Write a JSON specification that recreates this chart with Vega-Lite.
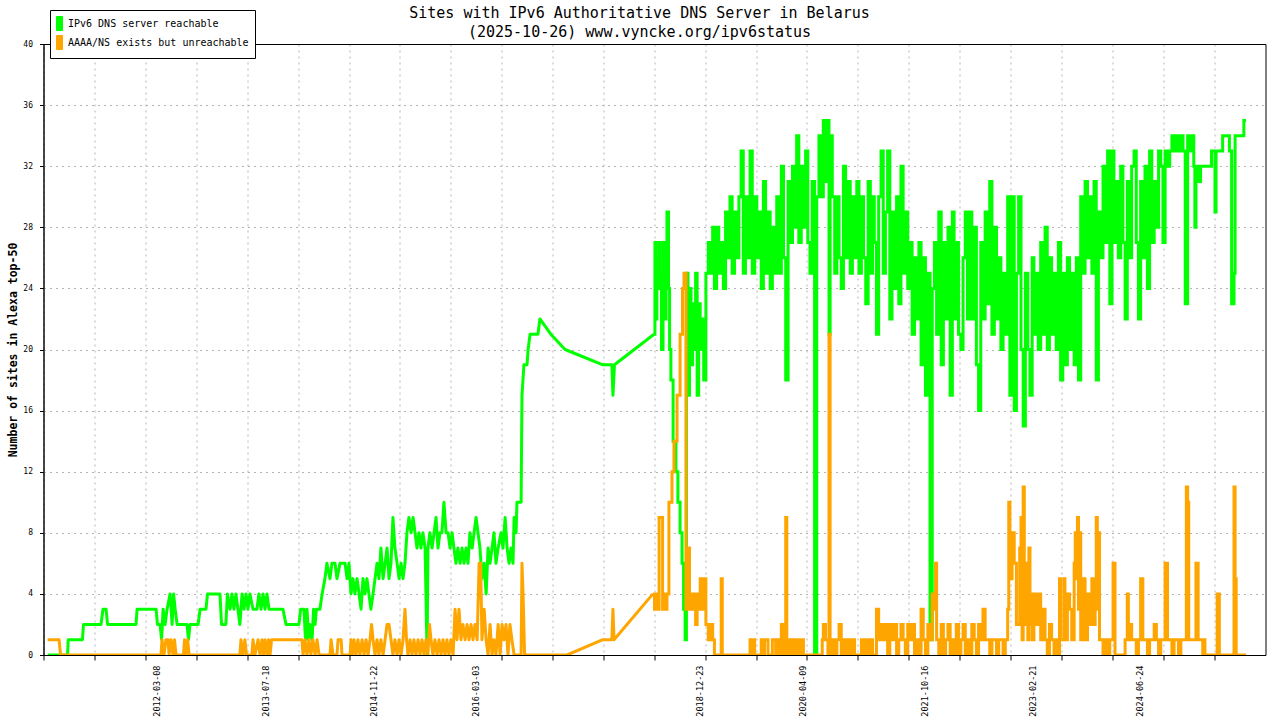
{
  "$schema": "https://vega.github.io/schema/vega-lite/v6.json",
  "autosize": {"type": "none"},
  "padding": {"left": 43.5, "top": 44, "right": 14.5, "bottom": 65},
  "width": 1222,
  "height": 611,
  "background": "white",
  "title": {
    "text": ["Sites with IPv6 Authoritative DNS Server in Belarus", "(2025-10-26) www.vyncke.org/ipv6status"],
    "font": "DejaVu Sans Mono",
    "fontSize": 15,
    "fontWeight": "normal",
    "color": "black",
    "lineHeight": 19,
    "anchor": "middle",
    "baseline": "bottom",
    "dx": -15,
    "offset": -45
  },
  "datasets": {
    "reachable_early": [
      {"date": "2010-10-25", "sites": 0}, {"date": "2011-01-24", "sites": 0}, {"date": "2011-01-27", "sites": 1},
      {"date": "2011-04-02", "sites": 1}, {"date": "2011-04-07", "sites": 2}, {"date": "2011-06-26", "sites": 2},
      {"date": "2011-07-05", "sites": 3}, {"date": "2011-07-19", "sites": 3}, {"date": "2011-07-26", "sites": 2},
      {"date": "2011-12-03", "sites": 2}, {"date": "2011-12-08", "sites": 3}, {"date": "2012-03-04", "sites": 3},
      {"date": "2012-03-10", "sites": 2}, {"date": "2012-03-22", "sites": 2}, {"date": "2012-03-29", "sites": 1},
      {"date": "2012-04-05", "sites": 3}, {"date": "2012-04-14", "sites": 2}, {"date": "2012-04-23", "sites": 3},
      {"date": "2012-05-07", "sites": 4}, {"date": "2012-05-16", "sites": 2}, {"date": "2012-05-23", "sites": 4},
      {"date": "2012-05-30", "sites": 3}, {"date": "2012-06-08", "sites": 2}, {"date": "2012-07-23", "sites": 2},
      {"date": "2012-07-30", "sites": 1}, {"date": "2012-08-06", "sites": 2}, {"date": "2012-09-12", "sites": 2},
      {"date": "2012-09-21", "sites": 3}, {"date": "2012-10-18", "sites": 3}, {"date": "2012-10-25", "sites": 4},
      {"date": "2012-12-21", "sites": 4}, {"date": "2012-12-28", "sites": 2}, {"date": "2013-01-17", "sites": 2},
      {"date": "2013-01-24", "sites": 4}, {"date": "2013-02-05", "sites": 3}, {"date": "2013-02-14", "sites": 4},
      {"date": "2013-02-23", "sites": 3}, {"date": "2013-03-04", "sites": 4}, {"date": "2013-03-13", "sites": 3},
      {"date": "2013-03-22", "sites": 2}, {"date": "2013-04-01", "sites": 4}, {"date": "2013-04-10", "sites": 3},
      {"date": "2013-04-19", "sites": 4}, {"date": "2013-04-28", "sites": 3}, {"date": "2013-05-07", "sites": 4},
      {"date": "2013-05-21", "sites": 3}, {"date": "2013-06-08", "sites": 3}, {"date": "2013-06-17", "sites": 4},
      {"date": "2013-06-27", "sites": 3}, {"date": "2013-07-06", "sites": 4}, {"date": "2013-07-15", "sites": 3},
      {"date": "2013-07-24", "sites": 4}, {"date": "2013-08-02", "sites": 3}, {"date": "2013-10-05", "sites": 3},
      {"date": "2013-10-19", "sites": 2}, {"date": "2013-12-17", "sites": 2}, {"date": "2013-12-25", "sites": 3},
      {"date": "2014-01-09", "sites": 3}, {"date": "2014-01-16", "sites": 1}, {"date": "2014-01-23", "sites": 3},
      {"date": "2014-01-30", "sites": 1}, {"date": "2014-02-06", "sites": 2}, {"date": "2014-02-15", "sites": 1},
      {"date": "2014-02-22", "sites": 3}, {"date": "2014-03-01", "sites": 2}, {"date": "2014-03-07", "sites": 3},
      {"date": "2014-03-23", "sites": 3}, {"date": "2014-04-02", "sites": 4}, {"date": "2014-04-15", "sites": 5},
      {"date": "2014-04-24", "sites": 6}, {"date": "2014-05-08", "sites": 5}, {"date": "2014-05-17", "sites": 6},
      {"date": "2014-05-31", "sites": 6}, {"date": "2014-06-09", "sites": 5}, {"date": "2014-06-23", "sites": 6},
      {"date": "2014-07-16", "sites": 6}, {"date": "2014-07-25", "sites": 5}, {"date": "2014-08-03", "sites": 6},
      {"date": "2014-08-12", "sites": 4}, {"date": "2014-08-21", "sites": 5}, {"date": "2014-08-30", "sites": 4},
      {"date": "2014-09-09", "sites": 5}, {"date": "2014-09-18", "sites": 4}, {"date": "2014-09-27", "sites": 3},
      {"date": "2014-10-06", "sites": 5}, {"date": "2014-10-15", "sites": 4}, {"date": "2014-10-24", "sites": 5},
      {"date": "2014-11-02", "sites": 4}, {"date": "2014-11-11", "sites": 3}, {"date": "2014-11-21", "sites": 4},
      {"date": "2014-11-30", "sites": 5}, {"date": "2014-12-09", "sites": 6}, {"date": "2014-12-18", "sites": 5},
      {"date": "2014-12-27", "sites": 7}, {"date": "2015-01-06", "sites": 5}, {"date": "2015-01-15", "sites": 6},
      {"date": "2015-01-24", "sites": 7}, {"date": "2015-02-02", "sites": 5}, {"date": "2015-02-11", "sites": 6},
      {"date": "2015-02-20", "sites": 9}, {"date": "2015-03-01", "sites": 7}, {"date": "2015-03-11", "sites": 6},
      {"date": "2015-03-20", "sites": 5}, {"date": "2015-03-29", "sites": 6}, {"date": "2015-04-07", "sites": 5},
      {"date": "2015-04-16", "sites": 6}, {"date": "2015-04-25", "sites": 8}, {"date": "2015-05-04", "sites": 9},
      {"date": "2015-05-14", "sites": 8}, {"date": "2015-05-23", "sites": 9}, {"date": "2015-06-01", "sites": 8},
      {"date": "2015-06-10", "sites": 7}, {"date": "2015-06-19", "sites": 8}, {"date": "2015-06-28", "sites": 7},
      {"date": "2015-07-07", "sites": 8}, {"date": "2015-07-17", "sites": 7}, {"date": "2015-07-26", "sites": 0},
      {"date": "2015-07-30", "sites": 7}, {"date": "2015-08-08", "sites": 8}, {"date": "2015-08-18", "sites": 7},
      {"date": "2015-08-27", "sites": 8}, {"date": "2015-09-05", "sites": 9}, {"date": "2015-09-14", "sites": 7},
      {"date": "2015-09-23", "sites": 8}, {"date": "2015-10-02", "sites": 8}, {"date": "2015-10-11", "sites": 10},
      {"date": "2015-10-21", "sites": 8}, {"date": "2015-10-30", "sites": 8}, {"date": "2015-11-08", "sites": 7},
      {"date": "2015-11-17", "sites": 8}, {"date": "2015-11-26", "sites": 7}, {"date": "2015-12-05", "sites": 6},
      {"date": "2015-12-14", "sites": 7}, {"date": "2015-12-24", "sites": 6}, {"date": "2016-01-02", "sites": 7},
      {"date": "2016-01-11", "sites": 6}, {"date": "2016-01-20", "sites": 7}, {"date": "2016-01-29", "sites": 6},
      {"date": "2016-02-07", "sites": 8}, {"date": "2016-02-17", "sites": 7}, {"date": "2016-02-26", "sites": 8},
      {"date": "2016-03-06", "sites": 9}, {"date": "2016-03-15", "sites": 8}, {"date": "2016-03-24", "sites": 7},
      {"date": "2016-04-02", "sites": 5}, {"date": "2016-04-12", "sites": 6}, {"date": "2016-04-21", "sites": 4},
      {"date": "2016-04-30", "sites": 7}, {"date": "2016-05-09", "sites": 6}, {"date": "2016-05-18", "sites": 7},
      {"date": "2016-05-27", "sites": 8}, {"date": "2016-06-05", "sites": 6}, {"date": "2016-06-15", "sites": 7},
      {"date": "2016-06-28", "sites": 8}, {"date": "2016-07-07", "sites": 7}, {"date": "2016-07-17", "sites": 9},
      {"date": "2016-07-26", "sites": 7}, {"date": "2016-08-04", "sites": 6}, {"date": "2016-08-13", "sites": 7},
      {"date": "2016-08-22", "sites": 6}, {"date": "2016-08-27", "sites": 9}, {"date": "2016-09-05", "sites": 8},
      {"date": "2016-09-09", "sites": 10}, {"date": "2016-09-28", "sites": 10}, {"date": "2016-10-02", "sites": 17},
      {"date": "2016-10-11", "sites": 19}, {"date": "2016-10-25", "sites": 19}, {"date": "2016-10-30", "sites": 20},
      {"date": "2016-11-08", "sites": 21}, {"date": "2016-12-14", "sites": 21}, {"date": "2016-12-23", "sites": 22},
      {"date": "2017-02-11", "sites": 21}, {"date": "2017-04-17", "sites": 20}, {"date": "2017-10-07", "sites": 19},
      {"date": "2017-11-17", "sites": 19}, {"date": "2017-11-22", "sites": 17}, {"date": "2017-11-29", "sites": 19},
      {"date": "2018-05-29", "sites": 21}
    ],
    "reachable": [
      {"date": "2018-05-29", "sites": 21}, {"date": "2018-06-02", "sites": 27}, {"date": "2018-06-07", "sites": 22},
      {"date": "2018-06-11", "sites": 26}, {"date": "2018-06-16", "sites": 24}, {"date": "2018-06-21", "sites": 27},
      {"date": "2018-06-25", "sites": 25}, {"date": "2018-07-02", "sites": 20}, {"date": "2018-07-09", "sites": 27},
      {"date": "2018-07-16", "sites": 22}, {"date": "2018-07-23", "sites": 26}, {"date": "2018-07-27", "sites": 29},
      {"date": "2018-08-03", "sites": 24}, {"date": "2018-08-08", "sites": 20}, {"date": "2018-08-14", "sites": 18},
      {"date": "2018-08-24", "sites": 14}, {"date": "2018-09-06", "sites": 12}, {"date": "2018-09-15", "sites": 10},
      {"date": "2018-09-25", "sites": 8}, {"date": "2018-10-04", "sites": 6}, {"date": "2018-10-11", "sites": 3},
      {"date": "2018-10-18", "sites": 1}, {"date": "2018-10-24", "sites": 25}, {"date": "2018-10-31", "sites": 17},
      {"date": "2018-11-07", "sites": 24}, {"date": "2018-11-14", "sites": 19}, {"date": "2018-11-21", "sites": 23},
      {"date": "2018-11-28", "sites": 20}, {"date": "2018-12-05", "sites": 25}, {"date": "2018-12-12", "sites": 17},
      {"date": "2018-12-19", "sites": 23}, {"date": "2018-12-26", "sites": 20},
      {"date": "2019-01-01", "sites": 22}, {"date": "2019-01-11", "sites": 18}, {"date": "2019-01-21", "sites": 25},
      {"date": "2019-02-01", "sites": 27}, {"date": "2019-02-11", "sites": 25}, {"date": "2019-02-21", "sites": 28},
      {"date": "2019-03-01", "sites": 24}, {"date": "2019-03-11", "sites": 28}, {"date": "2019-03-21", "sites": 25},
      {"date": "2019-04-01", "sites": 27}, {"date": "2019-04-11", "sites": 24}, {"date": "2019-04-21", "sites": 29},
      {"date": "2019-05-01", "sites": 26}, {"date": "2019-05-11", "sites": 30}, {"date": "2019-05-21", "sites": 25},
      {"date": "2019-06-01", "sites": 29}, {"date": "2019-06-11", "sites": 26}, {"date": "2019-06-21", "sites": 30},
      {"date": "2019-07-01", "sites": 33}, {"date": "2019-07-11", "sites": 25}, {"date": "2019-07-21", "sites": 30},
      {"date": "2019-08-01", "sites": 26}, {"date": "2019-08-11", "sites": 33}, {"date": "2019-08-21", "sites": 25},
      {"date": "2019-09-01", "sites": 30}, {"date": "2019-09-11", "sites": 26}, {"date": "2019-09-21", "sites": 29},
      {"date": "2019-10-01", "sites": 24}, {"date": "2019-10-11", "sites": 31}, {"date": "2019-10-21", "sites": 25},
      {"date": "2019-11-01", "sites": 29}, {"date": "2019-11-11", "sites": 24}, {"date": "2019-11-21", "sites": 28},
      {"date": "2019-12-01", "sites": 25}, {"date": "2019-12-11", "sites": 30}, {"date": "2019-12-21", "sites": 25},
      {"date": "2020-01-01", "sites": 32}, {"date": "2020-01-11", "sites": 26}, {"date": "2020-01-21", "sites": 18},
      {"date": "2020-02-01", "sites": 31}, {"date": "2020-02-11", "sites": 27}, {"date": "2020-02-21", "sites": 32},
      {"date": "2020-03-01", "sites": 28}, {"date": "2020-03-11", "sites": 34}, {"date": "2020-03-21", "sites": 27},
      {"date": "2020-04-01", "sites": 32}, {"date": "2020-04-11", "sites": 28}, {"date": "2020-04-21", "sites": 33},
      {"date": "2020-05-01", "sites": 27}, {"date": "2020-05-11", "sites": 25}, {"date": "2020-05-21", "sites": 31},
      {"date": "2020-06-01", "sites": 0}, {"date": "2020-06-11", "sites": 30}, {"date": "2020-06-21", "sites": 34},
      {"date": "2020-07-01", "sites": 30}, {"date": "2020-07-11", "sites": 35}, {"date": "2020-07-21", "sites": 31},
      {"date": "2020-08-01", "sites": 35}, {"date": "2020-08-06", "sites": 21}, {"date": "2020-08-11", "sites": 34},
      {"date": "2020-08-21", "sites": 30}, {"date": "2020-09-01", "sites": 25}, {"date": "2020-09-11", "sites": 30},
      {"date": "2020-09-21", "sites": 26}, {"date": "2020-10-01", "sites": 24}, {"date": "2020-10-11", "sites": 32},
      {"date": "2020-10-21", "sites": 26}, {"date": "2020-11-01", "sites": 31}, {"date": "2020-11-11", "sites": 25},
      {"date": "2020-11-21", "sites": 30}, {"date": "2020-12-01", "sites": 26}, {"date": "2020-12-11", "sites": 31},
      {"date": "2020-12-21", "sites": 25}, {"date": "2021-01-01", "sites": 30}, {"date": "2021-01-11", "sites": 26},
      {"date": "2021-01-21", "sites": 23}, {"date": "2021-02-01", "sites": 31}, {"date": "2021-02-11", "sites": 25},
      {"date": "2021-02-21", "sites": 30}, {"date": "2021-03-01", "sites": 27}, {"date": "2021-03-11", "sites": 21},
      {"date": "2021-03-21", "sites": 30}, {"date": "2021-04-01", "sites": 33}, {"date": "2021-04-11", "sites": 25},
      {"date": "2021-04-21", "sites": 29}, {"date": "2021-05-01", "sites": 33}, {"date": "2021-05-11", "sites": 22},
      {"date": "2021-05-21", "sites": 29}, {"date": "2021-06-01", "sites": 24}, {"date": "2021-06-11", "sites": 30},
      {"date": "2021-06-21", "sites": 23}, {"date": "2021-07-01", "sites": 32}, {"date": "2021-07-11", "sites": 25},
      {"date": "2021-07-21", "sites": 29}, {"date": "2021-08-01", "sites": 24}, {"date": "2021-08-11", "sites": 27},
      {"date": "2021-08-21", "sites": 21}, {"date": "2021-09-01", "sites": 26}, {"date": "2021-09-11", "sites": 22},
      {"date": "2021-09-21", "sites": 27}, {"date": "2021-10-01", "sites": 19}, {"date": "2021-10-11", "sites": 26},
      {"date": "2021-10-21", "sites": 17}, {"date": "2021-11-01", "sites": 25}, {"date": "2021-11-11", "sites": 1},
      {"date": "2021-11-21", "sites": 24}, {"date": "2021-12-01", "sites": 27}, {"date": "2021-12-11", "sites": 21},
      {"date": "2021-12-21", "sites": 29}, {"date": "2022-01-01", "sites": 19}, {"date": "2022-01-11", "sites": 27},
      {"date": "2022-01-21", "sites": 22}, {"date": "2022-02-01", "sites": 28}, {"date": "2022-02-11", "sites": 17},
      {"date": "2022-02-21", "sites": 29}, {"date": "2022-03-01", "sites": 22}, {"date": "2022-03-11", "sites": 27},
      {"date": "2022-03-21", "sites": 21}, {"date": "2022-04-01", "sites": 20}, {"date": "2022-04-11", "sites": 26},
      {"date": "2022-04-21", "sites": 29}, {"date": "2022-05-01", "sites": 22}, {"date": "2022-05-11", "sites": 29},
      {"date": "2022-05-21", "sites": 22}, {"date": "2022-06-01", "sites": 28}, {"date": "2022-06-11", "sites": 19},
      {"date": "2022-06-21", "sites": 16}, {"date": "2022-07-01", "sites": 27}, {"date": "2022-07-11", "sites": 22},
      {"date": "2022-07-21", "sites": 29}, {"date": "2022-08-01", "sites": 23}, {"date": "2022-08-11", "sites": 31},
      {"date": "2022-08-21", "sites": 21}, {"date": "2022-09-01", "sites": 28}, {"date": "2022-09-11", "sites": 22},
      {"date": "2022-09-21", "sites": 26}, {"date": "2022-10-01", "sites": 20}, {"date": "2022-10-11", "sites": 25},
      {"date": "2022-10-21", "sites": 21}, {"date": "2022-11-01", "sites": 30}, {"date": "2022-11-11", "sites": 17},
      {"date": "2022-11-21", "sites": 30}, {"date": "2022-12-01", "sites": 16}, {"date": "2022-12-11", "sites": 25},
      {"date": "2022-12-21", "sites": 30}, {"date": "2023-01-01", "sites": 20}, {"date": "2023-01-11", "sites": 15},
      {"date": "2023-01-21", "sites": 25}, {"date": "2023-02-01", "sites": 20}, {"date": "2023-02-11", "sites": 17},
      {"date": "2023-02-21", "sites": 26}, {"date": "2023-03-01", "sites": 21}, {"date": "2023-03-11", "sites": 25},
      {"date": "2023-03-21", "sites": 20}, {"date": "2023-04-01", "sites": 27}, {"date": "2023-04-11", "sites": 21},
      {"date": "2023-04-21", "sites": 28}, {"date": "2023-05-01", "sites": 20}, {"date": "2023-05-11", "sites": 26},
      {"date": "2023-05-21", "sites": 21}, {"date": "2023-06-01", "sites": 25}, {"date": "2023-06-11", "sites": 20},
      {"date": "2023-06-21", "sites": 27}, {"date": "2023-07-01", "sites": 18}, {"date": "2023-07-11", "sites": 25},
      {"date": "2023-07-21", "sites": 19}, {"date": "2023-08-01", "sites": 26}, {"date": "2023-08-11", "sites": 20},
      {"date": "2023-08-21", "sites": 25}, {"date": "2023-09-01", "sites": 19}, {"date": "2023-09-11", "sites": 26},
      {"date": "2023-09-21", "sites": 18}, {"date": "2023-10-01", "sites": 30}, {"date": "2023-10-11", "sites": 25},
      {"date": "2023-10-21", "sites": 31}, {"date": "2023-11-01", "sites": 26}, {"date": "2023-11-11", "sites": 30},
      {"date": "2023-11-21", "sites": 25}, {"date": "2023-12-01", "sites": 31}, {"date": "2023-12-11", "sites": 18},
      {"date": "2023-12-21", "sites": 29}, {"date": "2024-01-01", "sites": 26}, {"date": "2024-01-11", "sites": 32},
      {"date": "2024-01-21", "sites": 27}, {"date": "2024-02-01", "sites": 33}, {"date": "2024-02-11", "sites": 23},
      {"date": "2024-02-21", "sites": 33}, {"date": "2024-03-01", "sites": 27}, {"date": "2024-03-11", "sites": 31},
      {"date": "2024-03-21", "sites": 26}, {"date": "2024-04-01", "sites": 32}, {"date": "2024-04-11", "sites": 27},
      {"date": "2024-04-21", "sites": 22}, {"date": "2024-05-01", "sites": 31}, {"date": "2024-05-11", "sites": 26},
      {"date": "2024-05-21", "sites": 32}, {"date": "2024-06-01", "sites": 33}, {"date": "2024-06-11", "sites": 27},
      {"date": "2024-06-21", "sites": 22}, {"date": "2024-07-01", "sites": 31}, {"date": "2024-07-11", "sites": 26},
      {"date": "2024-07-21", "sites": 32}, {"date": "2024-08-01", "sites": 24}, {"date": "2024-08-11", "sites": 33},
      {"date": "2024-08-21", "sites": 27}, {"date": "2024-09-01", "sites": 31}, {"date": "2024-09-11", "sites": 28},
      {"date": "2024-09-21", "sites": 33}, {"date": "2024-10-01", "sites": 32}, {"date": "2024-10-11", "sites": 27},
      {"date": "2024-10-21", "sites": 33}, {"date": "2024-11-01", "sites": 32}, {"date": "2024-11-11", "sites": 33},
      {"date": "2024-11-21", "sites": 34}, {"date": "2024-12-01", "sites": 33}, {"date": "2024-12-11", "sites": 34},
      {"date": "2024-12-21", "sites": 33}, {"date": "2025-01-01", "sites": 34}, {"date": "2025-01-11", "sites": 33},
      {"date": "2025-01-21", "sites": 23}, {"date": "2025-02-01", "sites": 34}, {"date": "2025-02-11", "sites": 33},
      {"date": "2025-02-21", "sites": 34}, {"date": "2025-03-01", "sites": 32}, {"date": "2025-03-06", "sites": 28},
      {"date": "2025-03-11", "sites": 32}, {"date": "2025-03-21", "sites": 31}, {"date": "2025-04-01", "sites": 32},
      {"date": "2025-04-21", "sites": 32}, {"date": "2025-05-11", "sites": 32}, {"date": "2025-05-21", "sites": 33},
      {"date": "2025-06-01", "sites": 33}, {"date": "2025-06-06", "sites": 29}, {"date": "2025-06-11", "sites": 33},
      {"date": "2025-06-21", "sites": 33}, {"date": "2025-07-01", "sites": 33}, {"date": "2025-07-11", "sites": 34},
      {"date": "2025-07-21", "sites": 34}, {"date": "2025-08-01", "sites": 34}, {"date": "2025-08-11", "sites": 33},
      {"date": "2025-08-21", "sites": 23}, {"date": "2025-09-01", "sites": 25}, {"date": "2025-09-06", "sites": 34},
      {"date": "2025-09-21", "sites": 34}, {"date": "2025-10-11", "sites": 34}, {"date": "2025-10-16", "sites": 35},
      {"date": "2025-10-26", "sites": 35}
    ],
    "unreachable_early": [
      {"date": "2010-10-25", "sites": 1}, {"date": "2010-12-16", "sites": 1}, {"date": "2010-12-23", "sites": 0},
      {"date": "2012-03-26", "sites": 0}, {"date": "2012-03-31", "sites": 1}, {"date": "2012-04-09", "sites": 0},
      {"date": "2012-04-18", "sites": 1}, {"date": "2012-04-28", "sites": 1}, {"date": "2012-05-02", "sites": 0},
      {"date": "2012-05-11", "sites": 1}, {"date": "2012-05-20", "sites": 0}, {"date": "2012-05-27", "sites": 1},
      {"date": "2012-06-03", "sites": 0}, {"date": "2012-07-07", "sites": 0}, {"date": "2012-07-12", "sites": 1},
      {"date": "2012-07-19", "sites": 0}, {"date": "2012-07-26", "sites": 1}, {"date": "2012-08-02", "sites": 0},
      {"date": "2013-03-22", "sites": 0}, {"date": "2013-03-27", "sites": 1}, {"date": "2013-04-05", "sites": 0},
      {"date": "2013-04-14", "sites": 1}, {"date": "2013-04-21", "sites": 0}, {"date": "2013-05-16", "sites": 0},
      {"date": "2013-05-21", "sites": 1}, {"date": "2013-05-30", "sites": 0}, {"date": "2013-06-13", "sites": 1},
      {"date": "2013-06-22", "sites": 0}, {"date": "2013-07-01", "sites": 1}, {"date": "2013-07-08", "sites": 0},
      {"date": "2013-07-15", "sites": 1}, {"date": "2013-07-24", "sites": 0}, {"date": "2013-07-31", "sites": 1},
      {"date": "2013-08-07", "sites": 0}, {"date": "2013-08-14", "sites": 1}, {"date": "2013-12-31", "sites": 1},
      {"date": "2014-01-05", "sites": 0}, {"date": "2014-01-14", "sites": 1}, {"date": "2014-01-23", "sites": 0},
      {"date": "2014-02-01", "sites": 1}, {"date": "2014-02-10", "sites": 0}, {"date": "2014-02-19", "sites": 1},
      {"date": "2014-03-01", "sites": 0}, {"date": "2014-03-10", "sites": 1}, {"date": "2014-03-19", "sites": 0},
      {"date": "2014-05-08", "sites": 0}, {"date": "2014-05-13", "sites": 1}, {"date": "2014-05-22", "sites": 0},
      {"date": "2014-06-09", "sites": 0}, {"date": "2014-06-14", "sites": 1}, {"date": "2014-06-28", "sites": 1},
      {"date": "2014-07-02", "sites": 0}, {"date": "2014-08-08", "sites": 0}, {"date": "2014-08-12", "sites": 1},
      {"date": "2014-08-19", "sites": 0}, {"date": "2014-08-26", "sites": 1}, {"date": "2014-09-04", "sites": 0},
      {"date": "2014-09-13", "sites": 1}, {"date": "2014-09-22", "sites": 0}, {"date": "2014-10-02", "sites": 1},
      {"date": "2014-10-11", "sites": 0}, {"date": "2014-10-20", "sites": 1}, {"date": "2014-10-29", "sites": 0},
      {"date": "2014-11-07", "sites": 1}, {"date": "2014-11-14", "sites": 2}, {"date": "2014-11-21", "sites": 1},
      {"date": "2014-11-30", "sites": 0}, {"date": "2014-12-09", "sites": 1}, {"date": "2014-12-18", "sites": 0},
      {"date": "2014-12-27", "sites": 1}, {"date": "2015-01-06", "sites": 0}, {"date": "2015-01-15", "sites": 1},
      {"date": "2015-01-24", "sites": 2}, {"date": "2015-02-02", "sites": 2}, {"date": "2015-02-11", "sites": 1},
      {"date": "2015-02-20", "sites": 0}, {"date": "2015-03-01", "sites": 1}, {"date": "2015-03-11", "sites": 0},
      {"date": "2015-03-20", "sites": 1}, {"date": "2015-03-29", "sites": 0}, {"date": "2015-04-07", "sites": 1},
      {"date": "2015-04-16", "sites": 3}, {"date": "2015-04-23", "sites": 1}, {"date": "2015-04-30", "sites": 0},
      {"date": "2015-05-09", "sites": 1}, {"date": "2015-05-18", "sites": 0}, {"date": "2015-05-27", "sites": 1},
      {"date": "2015-06-05", "sites": 0}, {"date": "2015-06-15", "sites": 1}, {"date": "2015-06-24", "sites": 0},
      {"date": "2015-07-03", "sites": 1}, {"date": "2015-07-12", "sites": 0}, {"date": "2015-07-21", "sites": 1},
      {"date": "2015-07-30", "sites": 0}, {"date": "2015-08-06", "sites": 2}, {"date": "2015-08-13", "sites": 1},
      {"date": "2015-08-22", "sites": 0}, {"date": "2015-08-31", "sites": 1}, {"date": "2015-09-10", "sites": 0},
      {"date": "2015-09-19", "sites": 1}, {"date": "2015-09-28", "sites": 0}, {"date": "2015-10-07", "sites": 1},
      {"date": "2015-10-16", "sites": 0}, {"date": "2015-10-25", "sites": 1}, {"date": "2015-11-03", "sites": 0},
      {"date": "2015-11-12", "sites": 1}, {"date": "2015-11-22", "sites": 0}, {"date": "2015-12-01", "sites": 3},
      {"date": "2015-12-10", "sites": 1}, {"date": "2015-12-19", "sites": 3}, {"date": "2015-12-28", "sites": 1},
      {"date": "2016-01-06", "sites": 2}, {"date": "2016-01-16", "sites": 1}, {"date": "2016-01-25", "sites": 2},
      {"date": "2016-02-03", "sites": 1}, {"date": "2016-02-12", "sites": 2}, {"date": "2016-02-21", "sites": 1},
      {"date": "2016-03-01", "sites": 2}, {"date": "2016-03-11", "sites": 1}, {"date": "2016-03-20", "sites": 6},
      {"date": "2016-03-27", "sites": 6}, {"date": "2016-04-02", "sites": 1}, {"date": "2016-04-12", "sites": 3},
      {"date": "2016-04-21", "sites": 1}, {"date": "2016-04-30", "sites": 0}, {"date": "2016-05-09", "sites": 2},
      {"date": "2016-05-18", "sites": 0}, {"date": "2016-05-27", "sites": 1}, {"date": "2016-06-05", "sites": 0},
      {"date": "2016-06-15", "sites": 2}, {"date": "2016-06-24", "sites": 0}, {"date": "2016-07-03", "sites": 2},
      {"date": "2016-07-12", "sites": 1}, {"date": "2016-07-21", "sites": 2}, {"date": "2016-07-30", "sites": 0},
      {"date": "2016-08-08", "sites": 2}, {"date": "2016-08-17", "sites": 1}, {"date": "2016-08-27", "sites": 0},
      {"date": "2016-09-28", "sites": 0}, {"date": "2016-10-02", "sites": 6}, {"date": "2016-10-07", "sites": 4},
      {"date": "2016-10-14", "sites": 0}, {"date": "2017-04-26", "sites": 0}, {"date": "2017-10-07", "sites": 1},
      {"date": "2017-11-17", "sites": 1}, {"date": "2017-11-22", "sites": 3}, {"date": "2017-11-27", "sites": 1},
      {"date": "2018-05-24", "sites": 4}
    ],
    "unreachable": [
      {"date": "2018-05-24", "sites": 4}, {"date": "2018-05-31", "sites": 3}, {"date": "2018-06-07", "sites": 4},
      {"date": "2018-06-14", "sites": 3}, {"date": "2018-06-21", "sites": 9}, {"date": "2018-06-30", "sites": 9},
      {"date": "2018-07-07", "sites": 3}, {"date": "2018-07-13", "sites": 4}, {"date": "2018-07-20", "sites": 3},
      {"date": "2018-07-27", "sites": 4}, {"date": "2018-08-05", "sites": 10}, {"date": "2018-08-19", "sites": 12},
      {"date": "2018-08-28", "sites": 14}, {"date": "2018-09-11", "sites": 17}, {"date": "2018-09-25", "sites": 21},
      {"date": "2018-10-06", "sites": 24}, {"date": "2018-10-13", "sites": 25}, {"date": "2018-10-22", "sites": 3},
      {"date": "2018-10-31", "sites": 7}, {"date": "2018-11-07", "sites": 3}, {"date": "2018-11-14", "sites": 4},
      {"date": "2018-11-21", "sites": 3}, {"date": "2018-11-28", "sites": 4}, {"date": "2018-12-05", "sites": 2},
      {"date": "2018-12-12", "sites": 4}, {"date": "2018-12-19", "sites": 3}, {"date": "2018-12-26", "sites": 5},
      {"date": "2019-01-01", "sites": 3}, {"date": "2019-01-11", "sites": 5}, {"date": "2019-01-21", "sites": 2},
      {"date": "2019-02-01", "sites": 1}, {"date": "2019-02-11", "sites": 2}, {"date": "2019-02-21", "sites": 1},
      {"date": "2019-03-01", "sites": 0}, {"date": "2019-03-21", "sites": 0}, {"date": "2019-04-01", "sites": 5},
      {"date": "2019-04-06", "sites": 0}, {"date": "2019-08-06", "sites": 0}, {"date": "2019-08-11", "sites": 1},
      {"date": "2019-08-16", "sites": 0}, {"date": "2019-08-21", "sites": 1}, {"date": "2019-09-01", "sites": 0},
      {"date": "2019-09-21", "sites": 0}, {"date": "2019-10-01", "sites": 1}, {"date": "2019-10-11", "sites": 0},
      {"date": "2019-10-16", "sites": 1}, {"date": "2019-10-21", "sites": 1}, {"date": "2019-11-01", "sites": 0},
      {"date": "2019-11-16", "sites": 0}, {"date": "2019-11-21", "sites": 1}, {"date": "2019-12-01", "sites": 1},
      {"date": "2019-12-06", "sites": 0}, {"date": "2019-12-11", "sites": 1}, {"date": "2019-12-21", "sites": 0},
      {"date": "2020-01-01", "sites": 2}, {"date": "2020-01-11", "sites": 0}, {"date": "2020-01-21", "sites": 9},
      {"date": "2020-01-26", "sites": 0}, {"date": "2020-02-01", "sites": 1}, {"date": "2020-02-11", "sites": 0},
      {"date": "2020-02-21", "sites": 1}, {"date": "2020-03-01", "sites": 0}, {"date": "2020-03-11", "sites": 1},
      {"date": "2020-03-21", "sites": 0}, {"date": "2020-04-01", "sites": 1}, {"date": "2020-04-11", "sites": 0},
      {"date": "2020-07-01", "sites": 0}, {"date": "2020-07-06", "sites": 1}, {"date": "2020-07-11", "sites": 2},
      {"date": "2020-07-21", "sites": 1}, {"date": "2020-08-01", "sites": 0}, {"date": "2020-08-06", "sites": 21},
      {"date": "2020-08-11", "sites": 0}, {"date": "2020-08-21", "sites": 1}, {"date": "2020-09-01", "sites": 0},
      {"date": "2020-09-11", "sites": 1}, {"date": "2020-09-21", "sites": 2}, {"date": "2020-10-01", "sites": 0},
      {"date": "2020-10-11", "sites": 1}, {"date": "2020-10-21", "sites": 0}, {"date": "2020-11-01", "sites": 1},
      {"date": "2020-11-11", "sites": 0}, {"date": "2020-11-21", "sites": 1}, {"date": "2020-12-01", "sites": 0},
      {"date": "2020-12-21", "sites": 0}, {"date": "2021-01-01", "sites": 1}, {"date": "2021-01-11", "sites": 0},
      {"date": "2021-01-21", "sites": 1}, {"date": "2021-02-01", "sites": 0}, {"date": "2021-02-11", "sites": 1},
      {"date": "2021-02-21", "sites": 0}, {"date": "2021-03-01", "sites": 0}, {"date": "2021-03-11", "sites": 3},
      {"date": "2021-03-21", "sites": 1}, {"date": "2021-04-01", "sites": 2}, {"date": "2021-04-11", "sites": 1},
      {"date": "2021-04-21", "sites": 2}, {"date": "2021-05-01", "sites": 0}, {"date": "2021-05-11", "sites": 2},
      {"date": "2021-05-21", "sites": 1}, {"date": "2021-06-01", "sites": 2}, {"date": "2021-06-11", "sites": 0},
      {"date": "2021-06-21", "sites": 1}, {"date": "2021-07-01", "sites": 2}, {"date": "2021-07-11", "sites": 1},
      {"date": "2021-07-21", "sites": 0}, {"date": "2021-08-01", "sites": 2}, {"date": "2021-08-11", "sites": 1},
      {"date": "2021-08-21", "sites": 2}, {"date": "2021-09-01", "sites": 0}, {"date": "2021-09-11", "sites": 1},
      {"date": "2021-09-21", "sites": 0}, {"date": "2021-10-01", "sites": 3}, {"date": "2021-10-11", "sites": 1},
      {"date": "2021-10-21", "sites": 0}, {"date": "2021-11-01", "sites": 2}, {"date": "2021-11-11", "sites": 1},
      {"date": "2021-11-21", "sites": 4}, {"date": "2021-12-01", "sites": 3}, {"date": "2021-12-06", "sites": 6},
      {"date": "2021-12-11", "sites": 1}, {"date": "2021-12-21", "sites": 0}, {"date": "2022-01-01", "sites": 2},
      {"date": "2022-01-11", "sites": 0}, {"date": "2022-01-21", "sites": 1}, {"date": "2022-02-01", "sites": 2},
      {"date": "2022-02-11", "sites": 0}, {"date": "2022-02-21", "sites": 1}, {"date": "2022-03-01", "sites": 0},
      {"date": "2022-03-11", "sites": 2}, {"date": "2022-03-21", "sites": 0}, {"date": "2022-04-01", "sites": 1},
      {"date": "2022-04-11", "sites": 2}, {"date": "2022-04-21", "sites": 0}, {"date": "2022-05-01", "sites": 1},
      {"date": "2022-05-11", "sites": 0}, {"date": "2022-05-21", "sites": 2}, {"date": "2022-06-01", "sites": 1},
      {"date": "2022-06-11", "sites": 0}, {"date": "2022-06-21", "sites": 2}, {"date": "2022-07-01", "sites": 1},
      {"date": "2022-07-11", "sites": 3}, {"date": "2022-07-21", "sites": 1}, {"date": "2022-08-01", "sites": 1},
      {"date": "2022-08-11", "sites": 0}, {"date": "2022-08-21", "sites": 1}, {"date": "2022-09-01", "sites": 1},
      {"date": "2022-09-11", "sites": 0}, {"date": "2022-09-21", "sites": 1}, {"date": "2022-10-01", "sites": 1},
      {"date": "2022-10-11", "sites": 0}, {"date": "2022-10-21", "sites": 1}, {"date": "2022-11-01", "sites": 3},
      {"date": "2022-11-06", "sites": 10}, {"date": "2022-11-11", "sites": 8}, {"date": "2022-11-16", "sites": 5},
      {"date": "2022-11-21", "sites": 8}, {"date": "2022-12-01", "sites": 6}, {"date": "2022-12-06", "sites": 6},
      {"date": "2022-12-11", "sites": 2}, {"date": "2022-12-21", "sites": 2}, {"date": "2022-12-26", "sites": 7},
      {"date": "2023-01-01", "sites": 9}, {"date": "2023-01-06", "sites": 1}, {"date": "2023-01-11", "sites": 11},
      {"date": "2023-01-16", "sites": 4}, {"date": "2023-01-21", "sites": 2}, {"date": "2023-01-26", "sites": 6},
      {"date": "2023-02-01", "sites": 1}, {"date": "2023-02-06", "sites": 7}, {"date": "2023-02-11", "sites": 2},
      {"date": "2023-02-16", "sites": 4}, {"date": "2023-02-21", "sites": 1}, {"date": "2023-03-01", "sites": 4},
      {"date": "2023-03-11", "sites": 2}, {"date": "2023-03-21", "sites": 4}, {"date": "2023-04-01", "sites": 1},
      {"date": "2023-04-11", "sites": 3}, {"date": "2023-04-21", "sites": 1}, {"date": "2023-05-01", "sites": 0},
      {"date": "2023-05-11", "sites": 2}, {"date": "2023-05-21", "sites": 1}, {"date": "2023-06-01", "sites": 0},
      {"date": "2023-06-11", "sites": 1}, {"date": "2023-06-21", "sites": 0}, {"date": "2023-06-26", "sites": 5},
      {"date": "2023-07-01", "sites": 1}, {"date": "2023-07-11", "sites": 1}, {"date": "2023-07-16", "sites": 5},
      {"date": "2023-07-21", "sites": 1}, {"date": "2023-08-01", "sites": 4}, {"date": "2023-08-11", "sites": 3},
      {"date": "2023-08-21", "sites": 1}, {"date": "2023-09-01", "sites": 6}, {"date": "2023-09-06", "sites": 8},
      {"date": "2023-09-11", "sites": 5}, {"date": "2023-09-16", "sites": 9}, {"date": "2023-09-21", "sites": 3},
      {"date": "2023-09-26", "sites": 8}, {"date": "2023-10-01", "sites": 1}, {"date": "2023-10-11", "sites": 5},
      {"date": "2023-10-21", "sites": 1}, {"date": "2023-11-01", "sites": 4}, {"date": "2023-11-11", "sites": 2},
      {"date": "2023-11-21", "sites": 5}, {"date": "2023-12-01", "sites": 2}, {"date": "2023-12-06", "sites": 4},
      {"date": "2023-12-11", "sites": 9}, {"date": "2023-12-16", "sites": 3}, {"date": "2023-12-21", "sites": 8},
      {"date": "2023-12-26", "sites": 1}, {"date": "2024-01-01", "sites": 1}, {"date": "2024-01-11", "sites": 0},
      {"date": "2024-01-21", "sites": 1}, {"date": "2024-02-01", "sites": 0}, {"date": "2024-02-11", "sites": 1},
      {"date": "2024-02-21", "sites": 1}, {"date": "2024-02-26", "sites": 6}, {"date": "2024-03-01", "sites": 6},
      {"date": "2024-03-06", "sites": 0}, {"date": "2024-04-11", "sites": 0}, {"date": "2024-04-21", "sites": 1},
      {"date": "2024-05-01", "sites": 4}, {"date": "2024-05-06", "sites": 1}, {"date": "2024-05-11", "sites": 2},
      {"date": "2024-05-21", "sites": 1}, {"date": "2024-06-01", "sites": 1}, {"date": "2024-06-11", "sites": 0},
      {"date": "2024-06-21", "sites": 1}, {"date": "2024-07-01", "sites": 5}, {"date": "2024-07-06", "sites": 5},
      {"date": "2024-07-11", "sites": 1}, {"date": "2024-07-21", "sites": 1}, {"date": "2024-08-01", "sites": 0},
      {"date": "2024-08-11", "sites": 1}, {"date": "2024-08-21", "sites": 1}, {"date": "2024-09-01", "sites": 2},
      {"date": "2024-09-11", "sites": 1}, {"date": "2024-09-21", "sites": 0}, {"date": "2024-10-01", "sites": 1},
      {"date": "2024-10-11", "sites": 1}, {"date": "2024-10-21", "sites": 6}, {"date": "2024-10-26", "sites": 6},
      {"date": "2024-11-01", "sites": 1}, {"date": "2024-11-11", "sites": 1}, {"date": "2024-11-21", "sites": 0},
      {"date": "2024-12-01", "sites": 1}, {"date": "2024-12-11", "sites": 1}, {"date": "2024-12-21", "sites": 0},
      {"date": "2025-01-01", "sites": 1}, {"date": "2025-01-11", "sites": 1}, {"date": "2025-01-21", "sites": 1},
      {"date": "2025-01-26", "sites": 11}, {"date": "2025-02-01", "sites": 10}, {"date": "2025-02-06", "sites": 1},
      {"date": "2025-02-11", "sites": 1}, {"date": "2025-02-21", "sites": 1}, {"date": "2025-03-01", "sites": 1},
      {"date": "2025-03-06", "sites": 1}, {"date": "2025-03-11", "sites": 6}, {"date": "2025-03-16", "sites": 6},
      {"date": "2025-03-21", "sites": 1}, {"date": "2025-04-01", "sites": 1}, {"date": "2025-04-11", "sites": 0},
      {"date": "2025-04-16", "sites": 1}, {"date": "2025-04-21", "sites": 0}, {"date": "2025-06-11", "sites": 0},
      {"date": "2025-06-16", "sites": 4}, {"date": "2025-06-21", "sites": 4}, {"date": "2025-06-26", "sites": 0},
      {"date": "2025-08-26", "sites": 0}, {"date": "2025-09-01", "sites": 11}, {"date": "2025-09-06", "sites": 5},
      {"date": "2025-09-11", "sites": 0}, {"date": "2025-10-26", "sites": 0}
    ]
  },
  "encoding": {
    "y": {
      "field": "sites",
      "type": "quantitative",
      "scale": {"domain": [0, 40], "nice": false},
      "axis": {
        "title": "Number of sites in Alexa top-50",
        "titleFont": "DejaVu Sans Mono",
        "titleFontSize": 11.5,
        "titleFontWeight": "bold",
        "titleColor": "black",
        "titleAngle": -90,
        "titleAlign": "center",
        "titleBaseline": "middle",
        "titleX": -30.5,
        "titleY": 305.5,
        "values": [0, 4, 8, 12, 16, 20, 24, 28, 32, 36, 40],
        "labelFont": "DejaVu Sans Mono",
        "labelFontSize": 8,
        "labelColor": "black",
        "labelPadding": 7,
        "tickSize": 4,
        "tickColor": "black",
        "domainColor": "black",
        "grid": true,
        "gridColor": {"condition": {"test": "datum.value === 40", "value": "black"}, "value": "#b4b4b4"},
        "gridDash": {"condition": {"test": "datum.value === 40", "value": []}, "value": [2, 4]}
      }
    }
  },
  "layer": [
    {
      "data": {"name": "reachable_early"},
      "mark": {"type": "line", "strokeWidth": 3, "strokeJoin": "round", "clip": true},
      "encoding": {
        "x": {
          "field": "date",
          "type": "temporal",
          "scale": {
            "type": "utc",
            "domain": [{"year": 2010, "month": 10, "date": 6, "utc": true}, {"year": 2026, "month": 1, "date": 23, "utc": true}]
          },
          "axis": {
            "orient": "bottom",
            "title": null,
            "labels": false,
            "values": [
              {"year": 2010, "month": 10, "date": 6, "utc": true},
              {"year": 2011, "month": 5, "date": 27, "utc": true},
              {"year": 2012, "month": 1, "date": 15, "utc": true},
              {"year": 2012, "month": 9, "date": 3, "utc": true},
              {"year": 2013, "month": 4, "date": 24, "utc": true},
              {"year": 2013, "month": 12, "date": 13, "utc": true},
              {"year": 2014, "month": 8, "date": 3, "utc": true},
              {"year": 2015, "month": 3, "date": 23, "utc": true},
              {"year": 2015, "month": 11, "date": 11, "utc": true},
              {"year": 2016, "month": 7, "date": 1, "utc": true},
              {"year": 2017, "month": 2, "date": 19, "utc": true},
              {"year": 2017, "month": 10, "date": 9, "utc": true},
              {"year": 2018, "month": 5, "date": 30, "utc": true},
              {"year": 2019, "month": 1, "date": 18, "utc": true},
              {"year": 2019, "month": 9, "date": 8, "utc": true},
              {"year": 2020, "month": 4, "date": 27, "utc": true},
              {"year": 2020, "month": 12, "date": 16, "utc": true},
              {"year": 2021, "month": 8, "date": 6, "utc": true},
              {"year": 2022, "month": 3, "date": 27, "utc": true},
              {"year": 2022, "month": 11, "date": 15, "utc": true},
              {"year": 2023, "month": 7, "date": 5, "utc": true},
              {"year": 2024, "month": 2, "date": 23, "utc": true},
              {"year": 2024, "month": 10, "date": 13, "utc": true},
              {"year": 2025, "month": 6, "date": 3, "utc": true}
            ],
            "grid": true,
            "gridColor": "#b4b4b4",
            "gridDash": [2, 4],
            "ticks": true,
            "tickSize": 5,
            "tickColor": "black",
            "domainColor": "black"
          }
        },
        "color": {
          "datum": "IPv6 DNS server reachable",
          "type": "nominal",
          "scale": {
            "domain": ["IPv6 DNS server reachable", "AAAA/NS exists but unreachable"],
            "range": ["#00ff00", "#ffa500"]
          },
          "legend": {
            "title": null,
            "orient": "none",
            "legendX": 6.5,
            "legendY": -34,
            "padding": 6,
            "fillColor": "white",
            "strokeColor": "black",
            "labelFont": "DejaVu Sans Mono",
            "labelFontSize": 10,
            "labelColor": "black",
            "labelLimit": 400,
            "labelOffset": -3,
            "rowPadding": 0,
            "symbolType": "M-1,-1H-0.14V1H-1Z",
            "symbolSize": 196,
            "encode": {
              "symbols": {
                "update": {
                  "fill": {"scale": "color", "field": "value"},
                  "fillOpacity": {"value": 1},
                  "stroke": {"value": "black"},
                  "strokeWidth": {"value": 1}
                }
              }
            }
          }
        }
      }
    },
    {
      "data": {"name": "reachable"},
      "mark": {"type": "line", "strokeWidth": 3, "interpolate": "step-after", "clip": true},
      "encoding": {
        "x": {"field": "date", "type": "temporal", "axis": null},
        "color": {"datum": "IPv6 DNS server reachable", "type": "nominal"}
      }
    },
    {
      "data": {"name": "unreachable_early"},
      "mark": {"type": "line", "strokeWidth": 3, "strokeJoin": "round", "clip": true},
      "encoding": {
        "x": {
          "field": "date",
          "type": "temporal",
          "axis": {
            "orient": "bottom",
            "title": null,
            "values": [
              {"year": 2012, "month": 3, "date": 8, "utc": true},
              {"year": 2013, "month": 7, "date": 18, "utc": true},
              {"year": 2014, "month": 11, "date": 22, "utc": true},
              {"year": 2016, "month": 3, "date": 3, "utc": true},
              {"year": 2018, "month": 12, "date": 23, "utc": true},
              {"year": 2020, "month": 4, "date": 9, "utc": true},
              {"year": 2021, "month": 10, "date": 16, "utc": true},
              {"year": 2023, "month": 2, "date": 21, "utc": true},
              {"year": 2024, "month": 6, "date": 24, "utc": true}
            ],
            "format": "%Y-%m-%d",
            "labelAngle": -90,
            "labelFont": "DejaVu Sans Mono",
            "labelFontSize": 8.5,
            "labelColor": "black",
            "labelPadding": 10,
            "labelOverlap": false,
            "ticks": false,
            "tickSize": 0,
            "domain": false,
            "grid": false
          }
        },
        "color": {"datum": "AAAA/NS exists but unreachable", "type": "nominal"}
      }
    },
    {
      "data": {"name": "unreachable"},
      "mark": {"type": "line", "strokeWidth": 3, "interpolate": "step-after", "clip": true},
      "encoding": {
        "x": {"field": "date", "type": "temporal", "axis": null},
        "color": {"datum": "AAAA/NS exists but unreachable", "type": "nominal"}
      }
    }
  ],
  "resolve": {"axis": {"x": "independent"}},
  "config": {
    "view": {"stroke": "black", "strokeWidth": 1},
    "axis": {"domainColor": "black", "tickColor": "black"}
  }
}
